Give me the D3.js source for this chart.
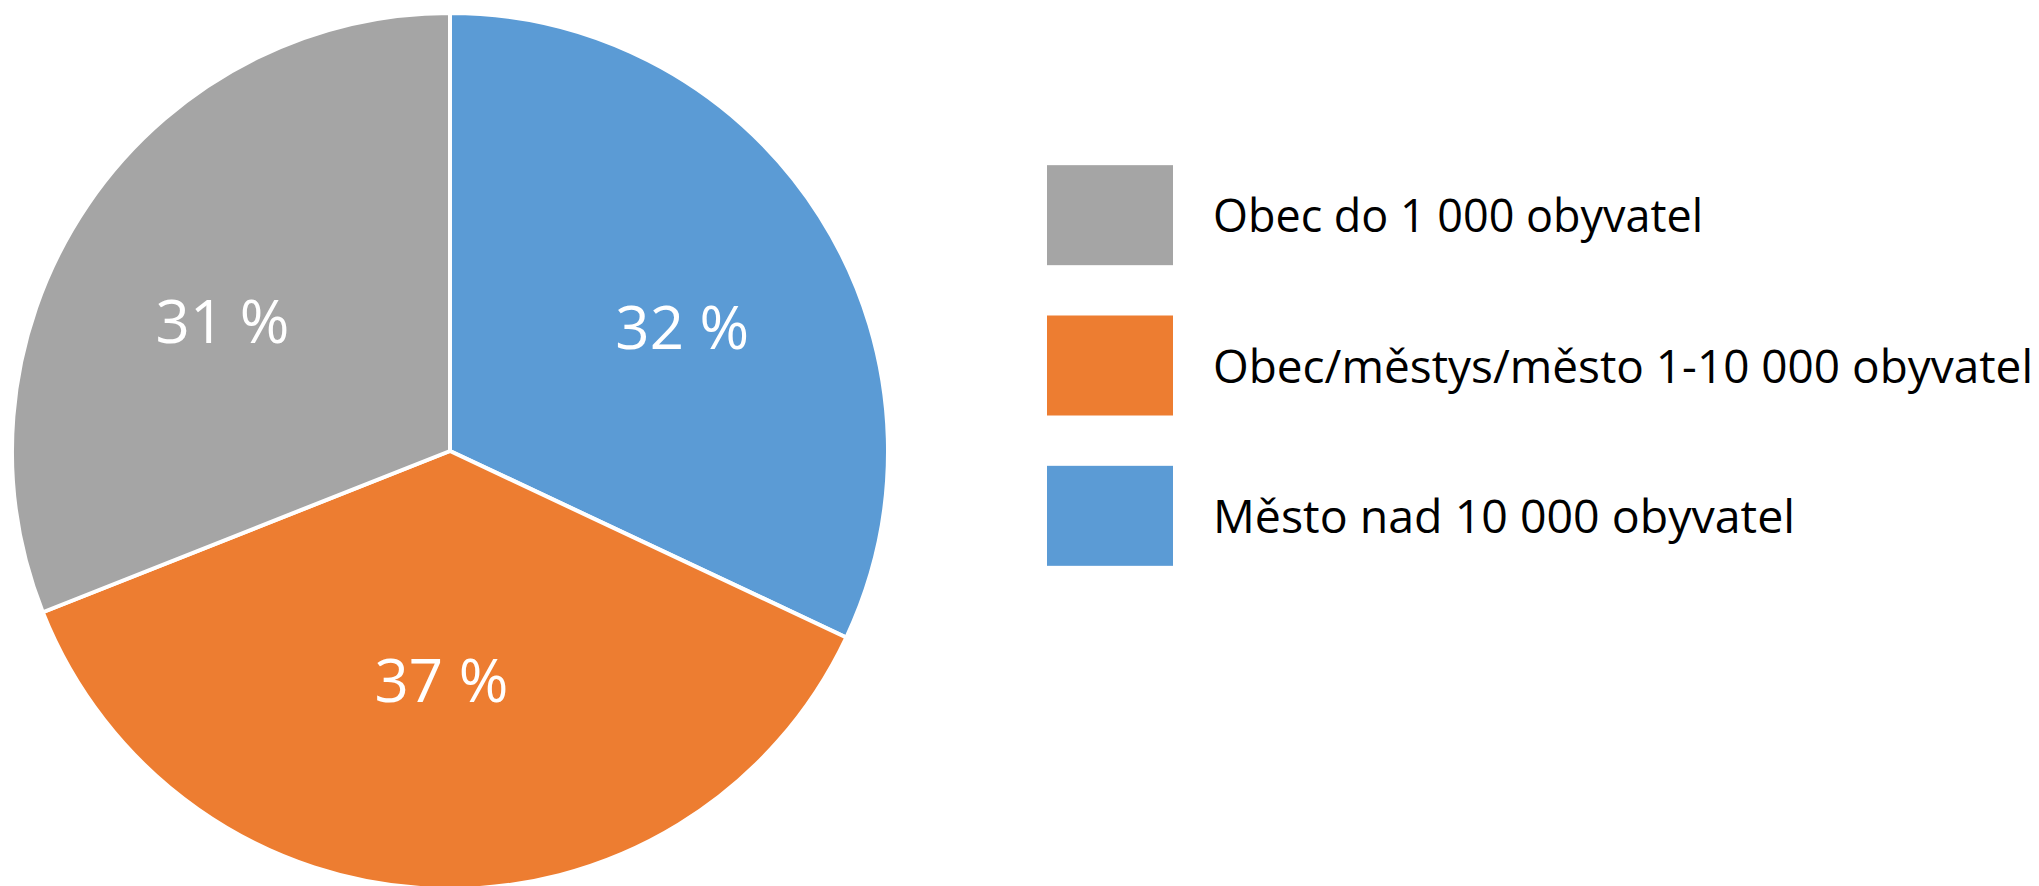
<!DOCTYPE html>
<html lang="cs">
  <head>
    <meta charset="UTF-8" />
    <title>Velikost obce</title>
    <style>
      body { margin: 0; background: #fff; }
      svg { display: block; font-family: "Open Sans", sans-serif; }
    </style>
  </head>
  <body>
    <div class="chart"></div>
    <script src="https://cdn.jsdelivr.net/npm/d3@7"></script>
    <script>
    // legend order
    var categories = ["Obec do 1 000 obyvatel", "Obec/městys/město 1-10 000 obyvatel", "Město nad 10 000 obyvatel"];
    var values = [31, 37, 32];
    var labels = ["31 %", "37 %", "32 %"];
    var palette = ["#a5a5a5", "#ed7d31", "#5b9bd5"];

    var w = 2039, h = 886;
    var cx = 450, cy = 451, r = 438;

    var svg = d3.select(".chart").append("svg")
                .attr("width", w)
                .attr("height", h);

    var color = d3.scaleOrdinal().domain(categories).range(palette);

    var rows = categories.map(function(c, i) {
      return { name: c, value: values[i], label: labels[i] };
    });

    // pie goes clockwise from 12 o'clock: blue, orange, gray
    var pie = d3.pie().sort(null).value(function(d) { return d.value; });
    var arcs = pie(rows.slice().reverse());

    var arc = d3.arc().innerRadius(0).outerRadius(r);

    var g = svg.append("g").attr("transform", "translate(" + cx + "," + cy + ")");

    g.selectAll("path")
     .data(arcs)
     .enter()
     .append("path")
     .attr("d", arc)
     .attr("fill", function(d) { return color(d.data.name); })
     .attr("stroke", "#fff")
     .attr("stroke-width", 4)
     .attr("stroke-linejoin", "round");

    // labels sit on a flattened ring (wider than tall), like excel does it
    var lrx = r * 0.628, lry = r * 0.525;
    g.selectAll("text")
     .data(arcs)
     .enter()
     .append("text")
     .attr("transform", function(d) {
       var a = (d.startAngle + d.endAngle) / 2;
       var x = Math.sin(a) * lrx, y = -Math.cos(a) * lry;
       return "translate(" + x + "," + (y + 21) + ")";
     })
     .attr("text-anchor", "middle")
     .attr("fill", "#fff")
     .attr("font-size", 60)
     .text(function(d) { return d.data.label; });

    // legend
    var legend = d3.scaleBand()
                   .domain(categories)
                   .range([140, 591])
                   .paddingInner(0.5)
                   .paddingOuter(0.25);

    var lg = svg.selectAll("g.legend")
                .data(categories)
                .enter().append("g")
                .attr("class", "legend");

    lg.append("rect")
      .attr("x", 1047)
      .attr("y", function(d) { return legend(d) + legend.bandwidth() / 2 - 50; })
      .attr("width", 126)
      .attr("height", 100)
      .attr("fill", function(d) { return color(d); });

    var textWidths = [490, 820, 582];
    lg.append("text")
      .attr("x", 1213)
      .attr("y", function(d) { return legend(d) + legend.bandwidth() / 2 + 17; })
      .attr("font-size", 46)
      .attr("fill", "#000")
      .attr("textLength", function(d, i) { return textWidths[i]; })
      .attr("lengthAdjust", "spacingAndGlyphs")
      .text(function(d) { return d; });
    </script>
  </body>
</html>
